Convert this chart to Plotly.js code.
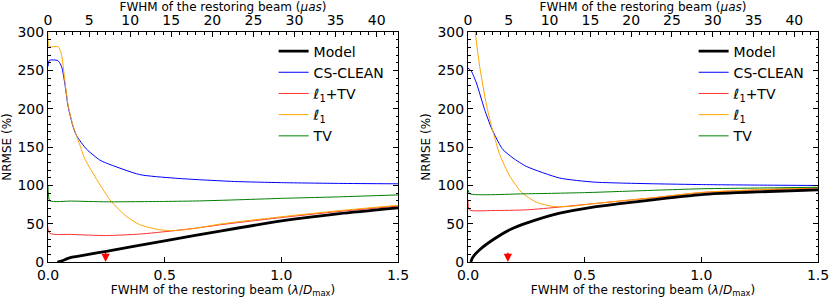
<!DOCTYPE html>
<html>
<head>
<meta charset="utf-8">
<script src="https://cdn.plot.ly/plotly-3.0.1.min.js"></script>
<style>html,body{margin:0;padding:0;background:#fff;}#chart{width:830px;height:300px;}</style>
</head>
<body>
<div id="chart"></div>
<script>
// ---------- Left panel data ----------
const L_model_x = [0.04, 0.06, 0.08, 0.10, 0.15, 0.25, 0.50, 0.75, 1.00, 1.25, 1.50];
const L_model_y = [0, 1.5, 4, 6, 8.5, 14, 27.5, 41, 53.5, 63, 70.5];
const L_clean_x = [0.0, 0.005, 0.04, 0.05, 0.06, 0.072, 0.086, 0.107, 0.122, 0.164, 0.222, 0.25, 0.393, 0.536, 0.65, 0.80, 1.00, 1.25, 1.50];
const L_clean_y = [255, 263, 263, 260, 253, 233, 203, 177, 165, 147.5, 133, 129, 114, 109.5, 107.3, 105, 103.5, 102.5, 102];
const L_l1tv_x = [0.0, 0.006, 0.10, 0.25, 0.393, 0.536, 0.65, 0.75, 1.00, 1.25, 1.50];
const L_l1tv_y = [92, 38, 36, 34.5, 36.4, 40.7, 44.8, 49, 58, 66, 73];
const L_l1_x = [0.0, 0.005, 0.043, 0.057, 0.072, 0.086, 0.107, 0.122, 0.143, 0.157, 0.214, 0.271, 0.336, 0.393, 0.479, 0.536, 0.60, 0.75, 1.00, 1.25, 1.50];
const L_l1_y = [310, 281, 281, 272, 237, 205, 178, 165, 147, 135, 105, 79, 59.5, 48.7, 42, 41, 42.5, 50, 59, 67, 74];
const L_tv_x = [0.0, 0.008, 0.10, 0.25, 0.50, 0.65, 0.80, 1.00, 1.25, 1.50];
const L_tv_y = [99, 80, 79.5, 78.5, 79, 79.7, 81, 83, 85, 87.5];

// ---------- Right panel data ----------
const R_model_x = [0.012, 0.02, 0.05, 0.107, 0.179, 0.25, 0.393, 0.536, 0.65, 0.80, 1.00, 1.25, 1.50];
const R_model_y = [0, 6, 16, 29, 42, 50.7, 63.8, 71.7, 76, 81.5, 88, 91.5, 94];
const R_clean_x = [0.0, 0.014, 0.036, 0.071, 0.10, 0.136, 0.15, 0.193, 0.25, 0.393, 0.536, 0.65, 0.80, 1.00, 1.25, 1.50];
const R_clean_y = [253, 249, 233.5, 199, 175, 153, 146.5, 135.6, 124.7, 109.5, 104.3, 103, 102, 101, 100.3, 99.8];
const R_l1tv_x = [0.0, 0.006, 0.107, 0.25, 0.393, 0.45, 0.536, 0.65, 0.80, 1.00, 1.25, 1.50];
const R_l1tv_y = [81, 68, 67.2, 68, 71.7, 73.5, 76, 79.5, 84, 90.5, 94, 96.5];
const R_l1_x = [0.02, 0.029, 0.05, 0.079, 0.10, 0.121, 0.136, 0.179, 0.229, 0.293, 0.364, 0.436, 0.536, 0.65, 0.80, 1.00, 1.25, 1.50];
const R_l1_y = [335, 305, 255, 205, 178, 155, 140, 112, 91, 78, 72.5, 72.5, 76, 79.5, 84, 90.8, 94.5, 97];
const R_tv_x = [0.0, 0.008, 0.25, 0.50, 0.65, 1.00, 1.25, 1.50];
const R_tv_y = [94, 89, 89, 90.5, 92, 95.5, 96.5, 97.5];

// ---------- Labels / ticks ----------
const seriesNames = ['Model', 'CS-CLEAN', 'ℓ<sub>1</sub>+TV', 'ℓ<sub>1</sub>', 'TV'];
const seriesColors = ['#000000', '#0000ff', '#ff3030', '#ffa500', '#008000'];
const seriesWidths = [2.8, 1, 1, 1, 1];
const arrowX = [0.247, 0.171];
const arrowLen = 14;
const topRange = [42.6, 42.9];
const xTickVals = [0, 0.5, 1.0, 1.5];
const yTickVals = [0, 50, 100, 150, 200, 250, 300];
const topTickVals = [0, 5, 10, 15, 20, 25, 30, 35, 40];

const FONT = 'DejaVu Sans, sans-serif';
const leftSets = [[L_model_x, L_model_y], [L_clean_x, L_clean_y], [L_l1tv_x, L_l1tv_y], [L_l1_x, L_l1_y], [L_tv_x, L_tv_y]];
const rightSets = [[R_model_x, R_model_y], [R_clean_x, R_clean_y], [R_l1tv_x, R_l1tv_y], [R_l1_x, R_l1_y], [R_tv_x, R_tv_y]];

const traces = [];
const order = [1, 2, 3, 4, 0];
order.forEach(i => {
  traces.push({x: leftSets[i][0], y: leftSets[i][1], type: 'scatter', mode: 'lines', name: seriesNames[i],
    line: {color: seriesColors[i], width: seriesWidths[i], shape: 'spline', smoothing: 0.6}, xaxis: 'x', yaxis: 'y', legend: 'legend', legendrank: i + 1});
});
order.forEach(i => {
  traces.push({x: rightSets[i][0], y: rightSets[i][1], type: 'scatter', mode: 'lines', name: seriesNames[i],
    line: {color: seriesColors[i], width: seriesWidths[i], shape: 'spline', smoothing: 0.6}, xaxis: 'x2', yaxis: 'y2', legend: 'legend2', legendrank: i + 1});
});
// empty helper traces so the top (μas) axes are rendered
traces.push({x: topTickVals, y: topTickVals.map(() => null), type: 'scatter', mode: 'lines', xaxis: 'x3', yaxis: 'y', showlegend: false, hoverinfo: 'skip'});
traces.push({x: topTickVals, y: topTickVals.map(() => null), type: 'scatter', mode: 'lines', xaxis: 'x4', yaxis: 'y2', showlegend: false, hoverinfo: 'skip'});

const tickFont = {family: FONT, size: 14, color: '#000'};
const titleFont = {family: FONT, size: 12, color: '#000'};

function bottomAxis(domain) {
  return {domain: domain, range: [0, 1.5], tickvals: xTickVals, tickformat: '.1f', ticks: 'inside', ticklen: 5,
    tickcolor: '#000', showline: true, linecolor: '#000', linewidth: 1, mirror: true, showgrid: false, zeroline: false,
    tickfont: tickFont, title: {text: 'FWHM of the restoring beam (<i>λ</i>/<i>D</i><sub>max</sub>)', font: titleFont, standoff: 2}};
}
function topAxis(over, anch, rng) {
  return {overlaying: over, anchor: anch, side: 'top', range: [0, rng], tickvals: topTickVals, ticks: 'inside', ticklen: 5,
    tickcolor: '#000', showline: true, linecolor: '#000', linewidth: 1, showgrid: false, zeroline: false,
    minor: {dtick: 1, ticks: 'inside', ticklen: 2.5, tickcolor: '#000', showgrid: false},
    tickfont: tickFont, title: {text: 'FWHM of the restoring beam (<i>μas</i>)', font: titleFont, standoff: 0}};
}
function yAxis(anch) {
  return {anchor: anch, range: [0, 300], tickvals: yTickVals, ticks: 'inside', ticklen: 5, tickcolor: '#000',
    showline: true, linecolor: '#000', linewidth: 1, mirror: 'ticks', showgrid: false, zeroline: false,
    minor: {dtick: 10, ticks: 'inside', ticklen: 2.5, tickcolor: '#000', showgrid: false},
    tickfont: tickFont, title: {text: 'NRMSE (%)', font: titleFont, standoff: 4}};
}

function legendCfg(x) {
  return {x: x, y: 0.985, xanchor: 'left', yanchor: 'top', bgcolor: 'rgba(0,0,0,0)', borderwidth: 0,
    font: {family: FONT, size: 14, color: '#000'}, tracegroupgap: 0, itemwidth: 30, traceorder: 'normal'};
}

function arrow(xv, xr, yr) {
  return {x: xv, y: 0, ax: xv, ay: arrowLen, xref: xr, yref: yr, axref: xr, ayref: yr, text: '', showarrow: true,
    arrowhead: 2, arrowsize: 1.1, arrowwidth: 1.5, arrowcolor: '#ff0000', standoff: 0};
}

const layout = {
  width: 830, height: 300,
  margin: {l: 48, r: 12, t: 32, b: 38},
  paper_bgcolor: '#fff', plot_bgcolor: '#fff',
  font: {family: FONT, color: '#000'},
  showlegend: true,
  xaxis: bottomAxis([0, 350 / 770]),
  yaxis: yAxis('x'),
  xaxis2: bottomAxis([420 / 770, 1]),
  yaxis2: yAxis('x2'),
  xaxis3: topAxis('x', 'y', topRange[0]),
  xaxis4: topAxis('x2', 'y2', topRange[1]),
  legend: legendCfg(0.293),
  legend2: legendCfg(0.293 + 420 / 770),
  annotations: [arrow(arrowX[0], 'x', 'y'), arrow(arrowX[1], 'x2', 'y2')]
};

Plotly.newPlot('chart', traces, layout, {displayModeBar: false, staticPlot: true});
</script>
</body>
</html>
